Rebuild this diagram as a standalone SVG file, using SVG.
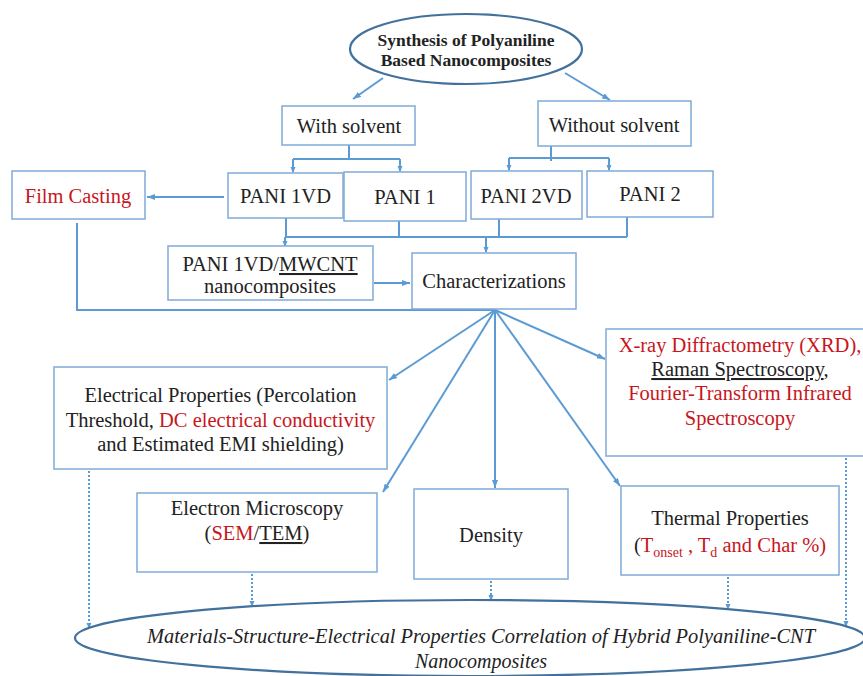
<svg xmlns="http://www.w3.org/2000/svg" width="863" height="676" viewBox="0 0 863 676" font-family="'Liberation Serif', 'DejaVu Serif', 'Times New Roman', serif">
<defs>
<marker id="ah" markerWidth="8" markerHeight="6" refX="8" refY="3" orient="auto" markerUnits="userSpaceOnUse"><path d="M0,0 L8,3 L0,6 z" fill="#5b9bd5"/></marker>
<marker id="as" markerWidth="6" markerHeight="6" refX="5" refY="3" orient="auto" markerUnits="userSpaceOnUse"><path d="M0,0.5 L6,3 L0,5.5 z" fill="#5b9bd5"/></marker>
<style>
text{font-family:'Liberation Serif','DejaVu Serif','Times New Roman',serif;font-size:20.5px;fill:#222;text-anchor:middle}
.red{fill:#c8161d}
.box{fill:#fff;stroke:#7fabd9;stroke-width:1.5}
.ell{fill:#fff;stroke:#41719c;stroke-width:2.2}
.c{fill:none;stroke:#5b9bd5;stroke-width:2}
.d{fill:none;stroke:#5b9bd5;stroke-width:2;stroke-dasharray:2 2}
.u{text-decoration:underline}
</style>
</defs>
<g id="connectors">
<path class="c" d="M383,78 L353,99" marker-end="url(#ah)"/>
<path class="c" d="M565,73 L610,100" marker-end="url(#ah)"/>
<path class="c" d="M349,145 V159"/>
<path class="c" d="M293,159 H400"/>
<path class="c" d="M293,159 V172" marker-end="url(#as)"/>
<path class="c" d="M400,159 V171" marker-end="url(#as)"/>
<path class="c" d="M551,146 V161"/>
<path class="c" d="M509,158 H609"/>
<path class="c" d="M509,158 V170" marker-end="url(#as)"/>
<path class="c" d="M609,158 V170" marker-end="url(#as)"/>
<path class="c" d="M224,197 H147" marker-end="url(#ah)"/>
<path class="c" d="M286,218 V237"/>
<path class="c" d="M399,221 V237"/>
<path class="c" d="M499,219 V237"/>
<path class="c" d="M627,217 V237"/>
<path class="c" d="M285,237 H627"/>
<path class="c" d="M285,237 V246" marker-end="url(#as)"/>
<path class="c" d="M486,237 V252" marker-end="url(#as)"/>
<path class="c" d="M374,283 H410" marker-end="url(#ah)"/>
<path class="c" d="M77,223 V310 H495"/>
<path class="c" d="M495,310 L389,380" marker-end="url(#ah)"/>
<path class="c" d="M495,310 L383,492" marker-end="url(#ah)"/>
<path class="c" d="M495,310 V488" marker-end="url(#ah)"/>
<path class="c" d="M495,310 L620,486" marker-end="url(#ah)"/>
<path class="c" d="M495,310 L605,359" marker-end="url(#ah)"/>
<path class="d" d="M89,471 V628" marker-end="url(#as)"/>
<path class="d" d="M252,574 V606" marker-end="url(#as)"/>
<path class="d" d="M491,581 V600" marker-end="url(#as)"/>
<path class="d" d="M728,577 V609" marker-end="url(#as)"/>
<path class="d" d="M846,458 V626" marker-end="url(#as)"/>
</g>
<g id="synthesis">
<ellipse class="ell" cx="466" cy="49" rx="116" ry="35"/>
<text x="466" y="46" style="font-weight:bold;font-size:17.5px">Synthesis of Polyaniline</text>
<text x="466" y="66" style="font-weight:bold;font-size:17.5px">Based Nanocomposites</text>
</g>
<g id="with-solvent"><rect class="box" x="282" y="106" width="133" height="39"/><text x="349" y="133">With solvent</text></g>
<g id="without-solvent"><rect class="box" x="538" y="101" width="153" height="45"/><text x="614" y="132">Without solvent</text></g>
<g id="film-casting"><rect class="box" x="12" y="171" width="133" height="48"/><text x="78" y="203" class="red">Film Casting</text></g>
<g id="pani-1vd"><rect class="box" x="228" y="173" width="115" height="45"/><text x="285.5" y="203">PANI 1VD</text></g>
<g id="pani-1"><rect class="box" x="344" y="172" width="122" height="49"/><text x="405" y="204">PANI 1</text></g>
<g id="pani-2vd"><rect class="box" x="471" y="171" width="111" height="48"/><text x="526" y="203">PANI 2VD</text></g>
<g id="pani-2"><rect class="box" x="587" y="171" width="126" height="46"/><text x="650" y="201">PANI 2</text></g>
<g id="pani-mwcnt"><rect class="box" x="168" y="246" width="205" height="54"/><text x="270" y="271">PANI 1VD/<tspan class="u">MWCNT</tspan></text><text x="270" y="293">nanocomposites</text></g>
<g id="characterizations"><rect class="box" x="412" y="253" width="164" height="56"/><text x="494" y="288">Characterizations</text></g>
<g id="electrical"><rect class="box" x="54" y="367" width="333" height="102"/>
<text x="220.5" y="402">Electrical Properties (Percolation</text>
<text x="220.5" y="427">Threshold, <tspan class="red">DC electrical conductivity</tspan></text>
<text x="220.5" y="451">and Estimated EMI shielding)</text></g>
<g id="xrd"><rect class="box" x="606" y="329" width="268" height="127"/>
<text x="740" y="352" class="red">X-ray Diffractometry (XRD),</text>
<text x="740" y="376"><tspan class="u">Raman Spectroscopy</tspan>,</text>
<text x="740" y="400" class="red">Fourier-Transform Infrared</text>
<text x="740" y="425" class="red">Spectroscopy</text></g>
<g id="electron-microscopy"><rect class="box" x="137" y="493" width="240" height="79"/>
<text x="257" y="515">Electron Microscopy</text>
<text x="257" y="540">(<tspan class="red">SEM</tspan>/<tspan class="u">TEM</tspan>)</text></g>
<g id="density"><rect class="box" x="414" y="489" width="154" height="90"/><text x="491" y="542">Density</text></g>
<g id="thermal"><rect class="box" x="621" y="486" width="218" height="89"/>
<text x="730" y="525">Thermal Properties</text>
<text x="730" y="552">(<tspan class="red">T<tspan dy="5" style="font-size:14px">onset</tspan><tspan dy="-5"> , T</tspan><tspan dy="5" style="font-size:14px">d</tspan><tspan dy="-5">  and Char %)</tspan></tspan></text></g>
<g id="correlation">
<ellipse class="ell" cx="470" cy="638" rx="395" ry="38"/>
<text x="481" y="643" style="font-style:italic;font-size:20px" textLength="668" lengthAdjust="spacingAndGlyphs">Materials-Structure-Electrical Properties Correlation of Hybrid Polyaniline-CNT</text>
<text x="481" y="668" style="font-style:italic;font-size:20px">Nanocomposites</text>
</g>
</svg>
